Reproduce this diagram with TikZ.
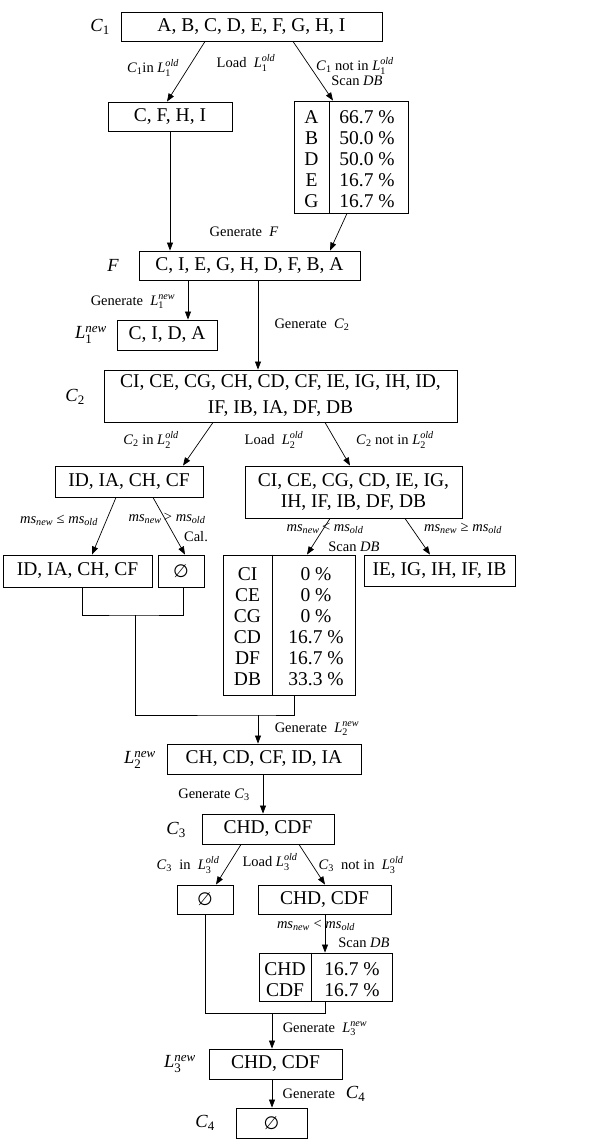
\documentclass[tikz,border=0pt]{standalone}
\usepackage{amsmath}
\usepackage{fontspec}
\setmainfont{Liberation Serif}
\newfontfamily\symf{DejaVu Sans}
\usetikzlibrary{arrows.meta}

% italic symbol with subscript, and with subscript and superscript
\newcommand{\Sb}[2]{\textit{#1}$_{\textrm{#2}}$}
\newcommand{\SbSp}[3]{\textit{#1}$_{\textrm{#2}}^{\textit{#3}}$}
\newcommand{\ms}[1]{\textit{ms}$_{\textit{#1}}$}
\newcommand{\nullset}{{\symf\fontsize{18}{20}\selectfont ∅}}

\newcommand{\boxf}{\fontsize{19.5}{21}\selectfont}
\newcommand{\labf}{\fontsize{14.5}{15.5}\selectfont}
\newcommand{\sidef}{\fontsize{18.5}{20}\selectfont}

\tikzset{
  bx/.style={draw, line width=0.9pt, inner sep=0pt, align=center, font=\boxf},
  col/.style={inner sep=0pt, align=center, font=\boxf},
  lab/.style={inner sep=0pt, align=center, font=\labf},
  side/.style={inner sep=0pt, font=\sidef},
  conn/.style={line width=0.7pt},
  arr/.style={conn, -{Triangle[length=8pt,width=6pt]}},
}

\begin{document}
\begin{tikzpicture}[x=1pt,y=-1pt]
\useasboundingbox (0,0) rectangle (589,1140);

% ---------- level 1 ----------
\node[bx, minimum width=261pt, minimum height=29pt] (c1) at (251.5,26.5) {A, B, C, D, E, F, G, H, I};
\node[side] at (100,27) {\Sb{C}{1}};

\node[bx, minimum width=124pt, minimum height=29pt] (cfhi) at (170,116.5) {C, F, H, I};

\node[bx, minimum width=114pt, minimum height=112pt] (t1) at (351,157) {};
\draw[conn] (t1.north -| 329,0) -- (t1.south -| 329,0);
\node[col] (t1a) at (311.5,159) {A\\B\\D\\E\\G};
\node[col] (t1b) at (367,159) {66.7 \%\\50.0 \%\\50.0 \%\\16.7 \%\\16.7 \%};

\draw[arr] (c1.south -| 205,0) -- (cfhi.north -| 167,0);
\draw[arr] (c1.south -| 293,0) -- (t1.north -| 333,0);
\node[lab] at (153,68) {\Sb{C}{1}in \SbSp{L}{1}{old}};
\node[lab] at (246,63) {Load~ \SbSp{L}{1}{old}};
\node[lab] at (355,66) {\Sb{C}{1} not in \SbSp{L}{1}{old}};
\node[lab] at (357,81) {Scan \textit{DB}};

% ---------- F ----------
\node[bx, minimum width=221pt, minimum height=29pt] (f) at (249.5,265.5) {C, I, E, G, H, D, F, B, A};
\node[side] at (113,265) {\textit{F}};
\draw[arr] (cfhi.south) -- (cfhi.south |- f.north);
\draw[arr] (t1.south -| 347,0) -- (f.north -| 330,0);
\node[lab] at (244,232) {Generate~ \textit{F}};

\node[bx, minimum width=100pt, minimum height=30pt] (l1n) at (167,335) {C, I, D, A};
\node[side] at (91,335) {\SbSp{L}{1}{new}};
\draw[arr] (f.south -| 188,0) -- (l1n.north -| 188,0);
\node[lab] at (133,302) {Generate~ \SbSp{L}{1}{new}};

% ---------- level 2 ----------
\node[bx, minimum width=353pt, minimum height=52pt, font={\fontsize{19.5}{26}\selectfont}] (c2) at (280.5,396)
  {CI, CE, CG, CH, CD, CF, IE, IG, IH, ID,\\IF, IB, IA, DF, DB};
\node[side] at (75,397) {\Sb{C}{2}};
\draw[arr] (f.south -| 258,0) -- (c2.north -| 258,0);
\node[lab] at (312,325) {Generate~ \Sb{C}{2}};

\node[bx, minimum width=148pt, minimum height=31pt] (id1) at (129,481.5) {ID, IA, CH, CF};
\node[bx, minimum width=217pt, minimum height=52pt] (r2) at (353.5,492) {CI, CE, CG, CD, IE, IG,\\IH, IF, IB, DF, DB};
\draw[arr] (c2.south -| 213,0) -- (id1.north -| 183,0);
\draw[arr] (c2.south -| 325,0) -- (r2.north -| 350,0);
\node[lab] at (151,440) {\Sb{C}{2} in \SbSp{L}{2}{old}};
\node[lab] at (274,440) {Load~ \SbSp{L}{2}{old}};
\node[lab] at (395,440) {\Sb{C}{2} not in \SbSp{L}{2}{old}};

\node[bx, minimum width=149pt, minimum height=32pt] (id2) at (77.5,571) {ID, IA, CH, CF};
\node[bx, minimum width=46pt, minimum height=32pt] (e1) at (181,571) {\nullset};
\draw[arr] (id1.south -| 116,0) -- (id2.north -| 92,0);
\draw[arr] (id1.south -| 153,0) -- (e1.north -| 185,0);
\node[lab] at (59,520) {\ms{new} ≤ \ms{old}};
\node[lab] at (167,518) {\ms{new}\,> \ms{old}};
\node[lab] at (196,537) {Cal.};

\node[bx, minimum width=132pt, minimum height=140pt] (t2) at (289,625) {};
\draw[conn] (t2.north -| 272,0) -- (t2.south -| 272,0);
\node[col] (t2a) at (247.5,627) {CI\\CE\\CG\\CD\\DF\\DB};
\node[col] (t2b) at (316,627) {0 \%\\0 \%\\0 \%\\16.7 \%\\16.7 \%\\33.3 \%};

\node[bx, minimum width=151pt, minimum height=31pt] (ie) at (439.5,570.5) {IE, IG, IH, IF, IB};
\draw[arr] (r2.south -| 330,0) -- (t2.north -| 307,0);
\draw[arr] (r2.south -| 405,0) -- (ie.north -| 430,0);
\node[lab] at (325,528) {\ms{new}\,< \ms{old}};
\node[lab] at (354,547) {Scan \textit{DB}};
\node[lab] at (463,528) {\ms{new} ≥ \ms{old}};

% merge into L2new
\coordinate (m2) at (135,615);
\coordinate (j2) at (258,715);
\draw[conn] (id2.south -| 82,0) |- (m2) -| (e1.south -| 183,0);
\draw[conn] (m2) |- (j2) -| (t2.south -| 294,0);

\node[bx, minimum width=194pt, minimum height=30pt] (l2n) at (264,759) {CH, CD, CF, ID, IA};
\node[side] at (140,760) {\SbSp{L}{2}{new}};
\draw[arr] (j2) -- (j2 |- l2n.north);
\node[lab] at (317,729) {Generate~ \SbSp{L}{2}{new}};

% ---------- level 3 ----------
\node[bx, minimum width=132pt, minimum height=30pt] (c3) at (268,829) {CHD, CDF};
\node[side] at (176,830) {\Sb{C}{3}};
\draw[arr] (l2n.south -| 263,0) -- (c3.north -| 263,0);
\node[lab] at (214,795) {Generate \Sb{C}{3}};

\node[bx, minimum width=56pt, minimum height=29pt] (e2) at (205,899.5) {\nullset};
\node[bx, minimum width=133pt, minimum height=29pt] (r3) at (324.5,899.5) {CHD, CDF};
\draw[arr] (c3.south -| 241,0) -- (e2.north -| 216,0);
\draw[arr] (c3.south -| 299,0) -- (r3.north -| 325,0);
\node[lab] at (188,865) {\Sb{C}{3}~ in~ \SbSp{L}{3}{old}};
\node[lab] at (270,862) {Load \SbSp{L}{3}{old}};
\node[lab] at (361,865) {\Sb{C}{3}~ not in~ \SbSp{L}{3}{old}};

\node[bx, minimum width=133pt, minimum height=48pt] (t3) at (325.5,977) {};
\draw[conn] (t3.north -| 311,0) -- (t3.south -| 311,0);
\node[col] (t3a) at (285,979.5) {CHD\\CDF};
\node[col] (t3b) at (352,979.5) {16.7 \%\\16.7 \%};
\draw[arr] (r3.south -| 325,0) -- (t3.north -| 325,0);
\node[lab] at (316,925) {\ms{new} < \ms{old}};
\node[lab] at (364,943) {Scan \textit{DB}};

% merge into L3new
\coordinate (j3) at (272,1013);
\draw[conn] (e2.south) |- (j3) -| (t3.south -| 325,0);

\node[bx, minimum width=133pt, minimum height=30pt] (l3n) at (275.5,1064) {CHD, CDF};
\node[side] at (180,1064) {\SbSp{L}{3}{new}};
\draw[arr] (j3) -- (j3 |- l3n.north);
\node[lab] at (325,1029) {Generate~ \SbSp{L}{3}{new}};

% ---------- level 4 ----------
\node[bx, minimum width=71pt, minimum height=30pt] (c4) at (271.5,1123) {\nullset};
\node[side] at (205,1123) {\Sb{C}{4}};
\draw[arr] (l3n.south -| 272,0) -- (c4.north -| 272,0);
\node[lab] at (324,1094) {Generate~~ {\sidef\Sb{C}{4}}};
\end{tikzpicture}
\end{document}
